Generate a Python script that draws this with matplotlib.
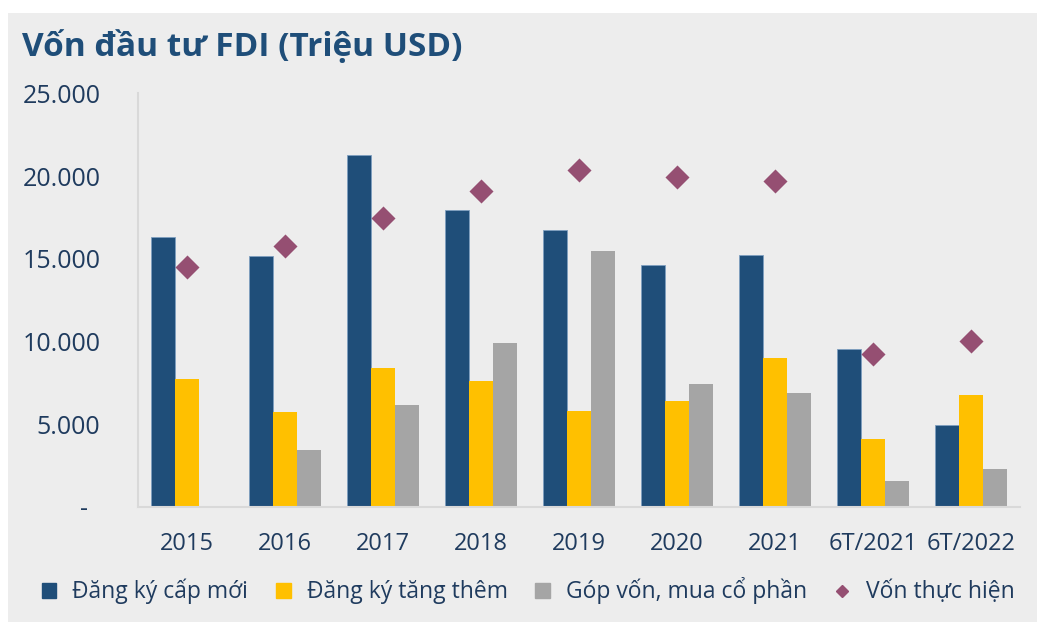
import matplotlib
matplotlib.use("Agg")
import matplotlib.pyplot as plt
from matplotlib.patches import Rectangle
from matplotlib.lines import Line2D
import numpy as np

plt.rcParams['font.family'] = ['Open Sans', 'DejaVu Sans']

categories = ["2015", "2016", "2017", "2018", "2019", "2020", "2021", "6T/2021", "6T/2022"]
dang_ky_cap_moi = [16330, 15180, 21270, 17950, 16750, 14640, 15240, 9550, 4950]
dang_ky_tang_them = [7760, 5750, 8430, 7600, 5790, 6390, 8990, 4100, 6800]
gop_von = [0, 3420, 6170, 9890, 15460, 7460, 6900, 1590, 2270]
von_thuc_hien = [14500, 15800, 17490, 19080, 20390, 19980, 19740, 9230, 10050]
series_names = ["Đăng ký cấp mới", "Đăng ký tăng thêm", "Góp vốn, mua cổ phần", "Vốn thực hiện"]
yticks = [0, 5000, 10000, 15000, 20000, 25000]
ytick_labels = ["-  ", "5.000", "10.000", "15.000", "20.000", "25.000"]

C_BLUE = "#1f4e79"
C_YEL = "#ffc000"
C_GRAY = "#a5a5a5"
C_DIA = "#954f72"
C_TXT = "#1f3b5e"
BG = "#ededed"

W, H = 1045, 630
fig = plt.figure(figsize=(W / 100, H / 100), dpi=100, facecolor="white")
fig.patches.append(Rectangle((8 / W, 1 - 622 / H), (1037 - 8) / W, (622 - 13) / H,
                             transform=fig.transFigure, facecolor=BG, edgecolor="none", zorder=-10))

ax = fig.add_axes([138 / W, 1 - 507 / H, (1020 - 138) / W, (507 - 93.5) / H])
ax.set_zorder(2)
ax.patch.set_alpha(0)

x = np.arange(len(categories))
bw = 0.248
ax.bar(x - bw, dang_ky_cap_moi, bw, color=C_BLUE, edgecolor="#7f9fc0", linewidth=0.6, zorder=2)
ax.bar(x, dang_ky_tang_them, bw, color=C_YEL, edgecolor="none", zorder=2)
ax.bar(x + bw, gop_von, bw, color=C_GRAY, edgecolor="none", zorder=2)
ax.scatter(x, von_thuc_hien, marker="D", s=150, color=C_DIA, zorder=3, linewidths=0)

ax.set_xlim(-0.5, len(categories) - 0.5)
ax.set_ylim(0, 25000)
ax.set_yticks(yticks)
ax.set_yticklabels(ytick_labels)
ax.set_xticks(x)
ax.set_xticklabels(categories)
ax.tick_params(axis="both", length=0, labelcolor=C_TXT)
ax.tick_params(axis="y", pad=27, labelsize=18)
ax.tick_params(axis="x", pad=18, labelsize=17)
for s in ["top", "right"]:
    ax.spines[s].set_visible(False)
for s in ["left", "bottom"]:
    ax.spines[s].set_color("#d9d9d9")
    ax.spines[s].set_linewidth(1.5)

fig.text(22 / W, 1 - 47 / H, "Vốn đầu tư FDI (Triệu USD)", fontsize=24, fontweight="bold",
         color=C_BLUE, va="center", ha="left")

handles = [
    Rectangle((0, 0), 1, 1, color=C_BLUE),
    Rectangle((0, 0), 1, 1, color=C_YEL),
    Rectangle((0, 0), 1, 1, color=C_GRAY),
    Line2D([], [], marker="D", linestyle="none", color=C_DIA, markersize=6.5),
]
leg = fig.legend(handles, series_names, loc="center", bbox_to_anchor=(528 / W, 1 - 591 / H),
                 ncol=4, frameon=False, fontsize=16.5, handlelength=0.65, handleheight=0.65,
                 handletextpad=0.7, columnspacing=1.2, labelcolor=C_TXT)

fig.savefig("out.png", dpi=100, facecolor="white")
